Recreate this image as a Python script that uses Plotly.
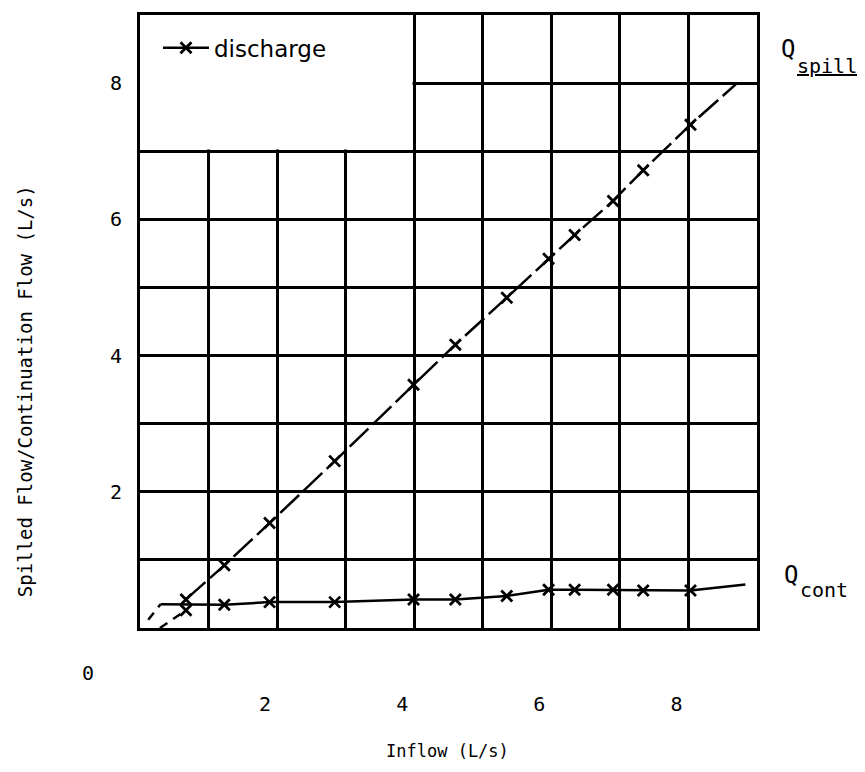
import plotly.graph_objects as go

# ---- data ----
inflow = [0.67, 1.23, 1.89, 2.84, 3.99, 4.60, 5.35, 5.96, 6.34, 6.90, 7.34, 8.03]
q_spill = [0.42, 0.92, 1.54, 2.45, 3.57, 4.16, 4.85, 5.42, 5.77, 6.27, 6.72, 7.39]
q_cont = [0.26, 0.34, 0.38, 0.38, 0.42, 0.42, 0.47, 0.56, 0.56, 0.56, 0.55, 0.55]

spill_end = (8.71, 8.00)          # end of the drawn spill line
cont_start = (0.30, 0.35)         # start of the drawn cont line
cont_end = (8.83, 0.64)           # end of the drawn cont line
cont_ext_x = [0.12, 0.30]         # dashed extension towards origin
cont_ext_y = [0.12, 0.35]
spill_ext_x = [0.29, 0.67]        # dashed extension towards axis
spill_ext_y = [0.00, 0.26]

tick_vals = list(range(0, 10))
x_tick_text = ["", "", "2", "", "4", "", "6", "", "8", ""]
y_tick_text = ["", "", "2", "", "4", "", "6", "", "8", ""]

MONO = "DejaVu Sans Mono"
marker_style = dict(symbol="x-thin", size=11, color="black",
                    line=dict(width=2.8, color="black"))

# plot area in screen pixels (page has an 8px body margin)
PL, PR, PT, PB = 140, 757, 12, 628
PW, PH = PR - PL, PB - PT


def px(sx):
    return (sx - PL) / PW


def py(sy):
    return (PB - sy) / PH


fig = go.Figure()

# spill line (dashed) through the measured points
fig.add_trace(go.Scatter(
    x=inflow + [spill_end[0]], y=q_spill + [spill_end[1]],
    mode="lines", line=dict(color="black", width=2.5, dash="26px,6px"),
    showlegend=False, hoverinfo="skip"))
fig.add_trace(go.Scatter(
    x=spill_ext_x, y=spill_ext_y, mode="lines",
    line=dict(color="black", width=2.5, dash="9px,7px"),
    showlegend=False, hoverinfo="skip"))
fig.add_trace(go.Scatter(
    x=inflow, y=q_spill, mode="markers", marker=marker_style,
    showlegend=False, name="Q spill"))

# cont line (solid)
fig.add_trace(go.Scatter(
    x=[cont_start[0]] + inflow[1:] + [cont_end[0]],
    y=[cont_start[1]] + q_cont[1:] + [cont_end[1]],
    mode="lines", line=dict(color="black", width=2.5),
    showlegend=False, hoverinfo="skip"))
fig.add_trace(go.Scatter(
    x=cont_ext_x, y=cont_ext_y, mode="lines",
    line=dict(color="black", width=2.5, dash="9px,7px"),
    showlegend=False, hoverinfo="skip"))
fig.add_trace(go.Scatter(
    x=inflow, y=q_cont, mode="markers", marker=marker_style,
    showlegend=False, name="Q cont"))

# legend entry
fig.add_trace(go.Scatter(
    x=[None], y=[None], mode="lines+markers", name="discharge",
    line=dict(color="black", width=2.5), marker=marker_style))

axis_common = dict(
    range=[0, 9], tickmode="array", tickvals=tick_vals,
    showgrid=True, gridcolor="black", gridwidth=2.6,
    zeroline=False, showline=True, linecolor="black", linewidth=3,
    mirror=True, ticks="", tickfont=dict(family=MONO, size=20, color="black"),
    fixedrange=True,
)


def ann(text, sx, sy, size, xanchor="center", **kw):
    return dict(text=text, xref="paper", yref="paper", x=px(sx), y=py(sy),
                xanchor=xanchor, yanchor="middle", showarrow=False,
                font=dict(family=MONO, size=size, color="black"), **kw)


fig.update_layout(
    width=857, height=764,
    margin=dict(l=PL - 8, r=857 - (PR - 8), t=PT - 8, b=764 - (PB - 8)),
    paper_bgcolor="white", plot_bgcolor="white",
    xaxis=dict(**axis_common, ticktext=x_tick_text,
               ticklabelstandoff=56, ticklabelshift=-12),
    yaxis=dict(**axis_common, ticktext=y_tick_text,
               ticklabelstandoff=11),
    legend=dict(x=px(158), y=py(45), xanchor="left", yanchor="middle",
                bgcolor="rgba(0,0,0,0)", borderwidth=0, itemwidth=46,
                font=dict(family="DejaVu Sans", size=23, color="black")),
    shapes=[dict(type="rect", xref="x", yref="y", x0=0, x1=3.975,
                 y0=7.025, y1=9, fillcolor="white", line=dict(width=0),
                 layer="between")],
    annotations=[
        ann("0", 88, 673, 20),
        ann("Inflow (L/s)", 447, 752, 17),
        ann("Spilled Flow/Continuation Flow (L/s)", 25, 390, 19,
            textangle=-90),
        ann("Q", 788, 46, 24),
        ann("<u>spill</u>", 795, 63, 20, xanchor="left"),
        ann("Q", 791, 575, 24),
        ann("cont", 798, 590, 20, xanchor="left"),
    ],
)

fig.write_html("out.html")
